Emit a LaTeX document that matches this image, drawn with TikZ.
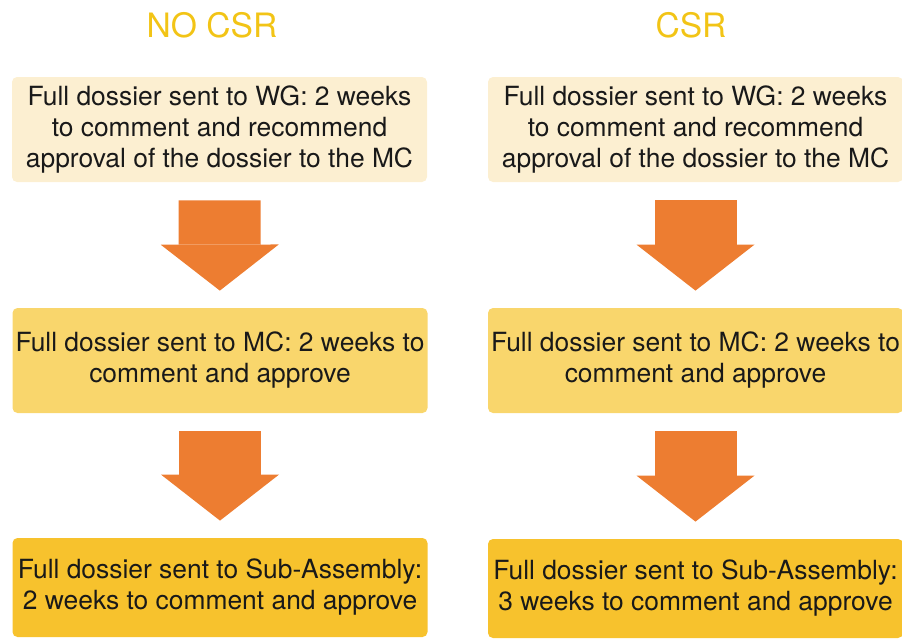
\documentclass[tikz,border=0pt]{standalone}
\usepackage{fontspec}
\setmainfont{TeX Gyre Heros}
\usetikzlibrary{arrows.meta}
\definecolor{titlegold}{RGB}{242,196,22}
\definecolor{wgfill}{RGB}{252,239,209}
\definecolor{mcfill}{RGB}{249,214,108}
\definecolor{safill}{RGB}{247,194,45}
\definecolor{arroworange}{RGB}{237,125,49}
\begin{document}
\begin{tikzpicture}[x=0.5pt, y=-0.5pt,
    stage/.style={rounded corners=2.5pt, inner sep=0pt, minimum width=207.5pt,
      minimum height=52.5pt, align=center, text=black!90,
      font=\fontsize{13.2}{15.5}\selectfont},
    head/.style={text=titlegold, font=\fontsize{16.8}{20}\selectfont},
    flow/.style={draw=arroworange, line width=41pt,
      -{Triangle[width=59pt, length=23pt, line width=0pt]},
      shorten <=9pt, shorten >=8.5pt}]
    \useasboundingbox (0,0) rectangle (902,639);
    % titles
    \node[head] (nocsr) at (212,25) {NO CSR};
    \node[head] (csr) at (691,25) {CSR};
    % left column
    \node[stage, fill=wgfill] (nowg) at (219.5,129.5)
      {Full dossier sent to WG: 2 weeks\\to comment and recommend\\approval of the dossier to the MC};
    \node[stage, fill=mcfill] (nomc) at (220,360.5)
      {Full dossier sent to MC: 2 weeks to\\comment and approve};
    \node[stage, fill=safill, minimum height=49.5pt] (nosa) at (220,587.5)
      {Full dossier sent to Sub-Assembly:\\2 weeks to comment and approve};
    % right column
    \node[stage, fill=wgfill] (wg) at (695.5,129.5)
      {Full dossier sent to WG: 2 weeks\\to comment and recommend\\approval of the dossier to the MC};
    \node[stage, fill=mcfill] (mc) at (695.5,360.5)
      {Full dossier sent to MC: 2 weeks to\\comment and approve};
    \node[stage, fill=safill, minimum height=49.5pt] (sa) at (695.5,588.5)
      {Full dossier sent to Sub-Assembly:\\3 weeks to comment and approve};
    % arrows
    \draw[flow] (nowg) -- (nomc);
    \draw[flow] (nomc) -- (nosa);
    \draw[flow] (wg) -- (mc);
    \draw[flow] (mc) -- (sa);
  \end{tikzpicture}
\end{document}
